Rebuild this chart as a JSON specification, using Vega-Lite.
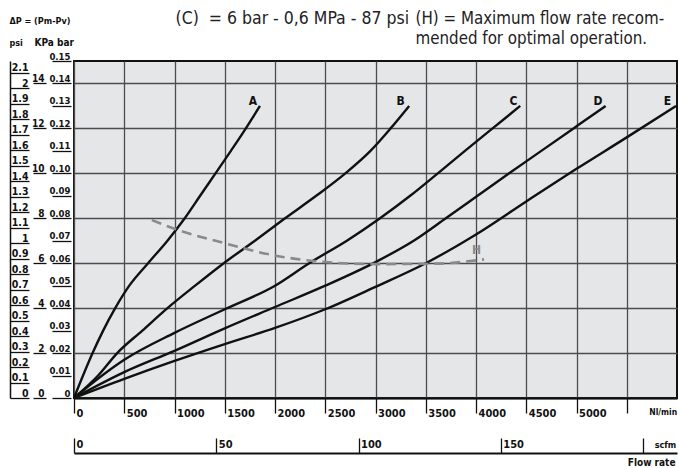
{
  "$schema": "https://vega.github.io/schema/vega-lite/v6.json",
  "width": 603,
  "height": 337,
  "autosize": {"type": "none"},
  "padding": {"left": 74, "top": 61, "right": 1, "bottom": 70},
  "background": "white",
  "config": {
    "font": "DejaVu Sans Condensed, sans-serif",
    "view": {"fill": "#e5e6e8", "stroke": "#111111", "strokeWidth": 2},
    "axis": {
      "labelFont": "DejaVu Sans Condensed, sans-serif",
      "titleFont": "DejaVu Sans Condensed, sans-serif",
      "labelColor": "#111111",
      "titleColor": "#111111",
      "labelFlush": false,
      "labelOverlap": false,
      "labelBound": false
    }
  },
  "datasets": {
    "curves": [
      {"series": "A", "flow": 0, "kpa": 0},
      {"series": "A", "flow": 90, "kpa": 1},
      {"series": "A", "flow": 185, "kpa": 2},
      {"series": "A", "flow": 290, "kpa": 3},
      {"series": "A", "flow": 410, "kpa": 4},
      {"series": "A", "flow": 550, "kpa": 5},
      {"series": "A", "flow": 737, "kpa": 6},
      {"series": "A", "flow": 930, "kpa": 7},
      {"series": "A", "flow": 1102, "kpa": 8},
      {"series": "A", "flow": 1255, "kpa": 9},
      {"series": "A", "flow": 1408, "kpa": 10},
      {"series": "A", "flow": 1561, "kpa": 11},
      {"series": "A", "flow": 1710, "kpa": 12},
      {"series": "A", "flow": 1850, "kpa": 13},
      {"series": "B", "flow": 0, "kpa": 0},
      {"series": "B", "flow": 240, "kpa": 1},
      {"series": "B", "flow": 430, "kpa": 2},
      {"series": "B", "flow": 680, "kpa": 3},
      {"series": "B", "flow": 930, "kpa": 4},
      {"series": "B", "flow": 1205, "kpa": 5},
      {"series": "B", "flow": 1490, "kpa": 6},
      {"series": "B", "flow": 1800, "kpa": 7},
      {"series": "B", "flow": 2100, "kpa": 8},
      {"series": "B", "flow": 2410, "kpa": 9},
      {"series": "B", "flow": 2700, "kpa": 10},
      {"series": "B", "flow": 2950, "kpa": 11},
      {"series": "B", "flow": 3150, "kpa": 12},
      {"series": "B", "flow": 3335, "kpa": 13},
      {"series": "C", "flow": 0, "kpa": 0},
      {"series": "C", "flow": 280, "kpa": 1},
      {"series": "C", "flow": 500, "kpa": 1.7},
      {"series": "C", "flow": 1000, "kpa": 2.9},
      {"series": "C", "flow": 1500, "kpa": 3.95},
      {"series": "C", "flow": 2000, "kpa": 5.0},
      {"series": "C", "flow": 2340, "kpa": 6},
      {"series": "C", "flow": 2715, "kpa": 7},
      {"series": "C", "flow": 3045, "kpa": 8},
      {"series": "C", "flow": 3345, "kpa": 9},
      {"series": "C", "flow": 3620, "kpa": 10},
      {"series": "C", "flow": 3890, "kpa": 11},
      {"series": "C", "flow": 4165, "kpa": 12},
      {"series": "C", "flow": 4440, "kpa": 13},
      {"series": "D", "flow": 0, "kpa": 0},
      {"series": "D", "flow": 500, "kpa": 1.15},
      {"series": "D", "flow": 1000, "kpa": 2.1},
      {"series": "D", "flow": 1500, "kpa": 3.1},
      {"series": "D", "flow": 2000, "kpa": 4.05},
      {"series": "D", "flow": 2500, "kpa": 5.0},
      {"series": "D", "flow": 3000, "kpa": 6.05},
      {"series": "D", "flow": 3380, "kpa": 7},
      {"series": "D", "flow": 3700, "kpa": 8},
      {"series": "D", "flow": 4015, "kpa": 9},
      {"series": "D", "flow": 4330, "kpa": 10},
      {"series": "D", "flow": 4650, "kpa": 11},
      {"series": "D", "flow": 4970, "kpa": 12},
      {"series": "D", "flow": 5290, "kpa": 13},
      {"series": "E", "flow": 0, "kpa": 0},
      {"series": "E", "flow": 500, "kpa": 0.85},
      {"series": "E", "flow": 1000, "kpa": 1.65},
      {"series": "E", "flow": 1500, "kpa": 2.4},
      {"series": "E", "flow": 2000, "kpa": 3.12},
      {"series": "E", "flow": 2500, "kpa": 3.95},
      {"series": "E", "flow": 3000, "kpa": 4.95},
      {"series": "E", "flow": 3500, "kpa": 6.0},
      {"series": "E", "flow": 4000, "kpa": 7.28},
      {"series": "E", "flow": 4500, "kpa": 8.75},
      {"series": "E", "flow": 5000, "kpa": 10.2},
      {"series": "E", "flow": 5500, "kpa": 11.6},
      {"series": "E", "flow": 5990, "kpa": 13},
      {"series": "H", "flow": 775, "kpa": 7.92},
      {"series": "H", "flow": 1020, "kpa": 7.5},
      {"series": "H", "flow": 1490, "kpa": 6.9},
      {"series": "H", "flow": 1990, "kpa": 6.35},
      {"series": "H", "flow": 2450, "kpa": 6.07},
      {"series": "H", "flow": 3010, "kpa": 5.96},
      {"series": "H", "flow": 3600, "kpa": 5.98},
      {"series": "H", "flow": 4080, "kpa": 6.17}
    ],
    "labels": [
      {"name": "A", "flow": 1780, "kpa": 13.05},
      {"name": "B", "flow": 3250, "kpa": 13.05},
      {"name": "C", "flow": 4373, "kpa": 13.05},
      {"name": "D", "flow": 5215, "kpa": 13.05},
      {"name": "E", "flow": 5905, "kpa": 13.05},
      {"name": "H", "flow": 4005, "kpa": 6.4}
    ]
  },
  "layer": [
    {
      "data": {"name": "curves"},
      "layer": [
        {
          "transform": [{"filter": "datum.series != 'H'"}],
          "mark": {"type": "line", "interpolate": "monotone", "color": "#111111", "strokeWidth": 2.4},
          "encoding": {
            "x": {
              "field": "flow",
              "type": "quantitative",
              "scale": {"domain": [0, 6000], "nice": false, "zero": true},
              "axis": {
                "orient": "bottom",
                "values": [0, 500, 1000, 1500, 2000, 2500, 3000, 3500, 4000, 4500, 5000, 5500],
                "format": "d",
                "labelExpr": "datum.value == 5500 ? 'Nl/min' : datum.label",
                "grid": true,
                "gridColor": "#4d4d4d",
                "gridWidth": 1.3,
                "domain": true,
                "domainColor": "#111111",
                "domainWidth": 2,
                "ticks": true,
                "tickSize": 15,
                "tickColor": "#111111",
                "tickWidth": 1.3,
                "labelAlign": "left",
                "labelBaseline": "top",
                "labelPadding": -6,
                "labelOffset": {"condition": {"test": "datum.value == 5500", "value": 22}, "value": 2},
                "labelFontSize": {"condition": {"test": "datum.value == 5500", "value": 8.5}, "value": 11},
                "labelFontWeight": "bold",
                "title": "(C)\u00a0\u00a0= 6 bar - 0,6 MPa - 87 psi",
                "titleX": 101,
                "titleY": -375,
                "titleAngle": 0,
                "titleAlign": "left",
                "titleBaseline": "alphabetic",
                "titleFontSize": 17.5,
                "titleFontWeight": "normal",
                "titleColor": "#222222"
              }
            },
            "y": {
              "field": "kpa",
              "type": "quantitative",
              "scale": {"domain": [0, 15], "nice": false, "zero": true},
              "axis": {
                "orient": "left",
                "offset": 28,
                "values": [0, 1, 2, 3, 4, 5, 6, 7, 8, 9, 10, 11, 12, 13, 14, 15],
                "grid": true,
                "gridColor": "#4d4d4d",
                "gridWidth": 1.3,
                "domain": false,
                "ticks": true,
                "tickSize": 13,
                "tickColor": "#111111",
                "tickWidth": 1.3,
                "labelAlign": "right",
                "labelBaseline": "alphabetic",
                "labelPadding": -11,
                "labelOffset": -2,
                "labelFontSize": 10,
                "labelFontWeight": "bold",
                "title": "KPa bar",
                "titleX": -12,
                "titleY": -16,
                "titleAngle": 0,
                "titleAlign": "left",
                "titleBaseline": "alphabetic",
                "titleFontSize": 10,
                "titleFontWeight": "bold"
              }
            },
            "detail": {"field": "series"}
          }
        },
        {
          "transform": [{"filter": "datum.series == 'H'"}],
          "mark": {"type": "line", "interpolate": "monotone", "color": "#8a8a8a", "strokeWidth": 2.6, "strokeDash": [10, 6]},
          "encoding": {
            "x": {"field": "flow", "type": "quantitative"},
            "y": {"field": "kpa", "type": "quantitative"}
          }
        },
        {
          "data": {"name": "labels"},
          "mark": {"type": "text", "fontWeight": "bold", "fontSize": 12, "baseline": "alphabetic", "align": "center"},
          "encoding": {
            "x": {"field": "flow", "type": "quantitative"},
            "y": {"field": "kpa", "type": "quantitative"},
            "text": {"field": "name"},
            "color": {
              "field": "name",
              "type": "nominal",
              "scale": {"domain": ["A", "B", "C", "D", "E", "H"], "range": ["#111111", "#111111", "#111111", "#111111", "#111111", "#8a8a8a"]},
              "legend": null
            }
          }
        }
      ]
    },
    {
      "data": {"values": [{"scfm": 0}, {"scfm": 211.9}]},
      "mark": {"type": "rule", "opacity": 0},
      "encoding": {
        "x": {
          "field": "scfm",
          "type": "quantitative",
          "scale": {"domain": [0, 211.9], "nice": false, "zero": true},
          "axis": {
            "orient": "bottom",
            "offset": 55,
            "values": [0, 50, 100, 150, 200],
            "labelExpr": "datum.value == 200 ? 'scfm' : datum.label",
            "grid": false,
            "domain": true,
            "domainColor": "#111111",
            "domainWidth": 2,
            "ticks": true,
            "tickSize": -15,
            "tickColor": "#111111",
            "tickWidth": 1.3,
            "labelAlign": "left",
            "labelBaseline": "bottom",
            "labelPadding": 11,
            "labelOffset": {"condition": {"test": "datum.value == 200", "value": 11}, "value": 2},
            "labelFontSize": {"condition": {"test": "datum.value == 200", "value": 9}, "value": 11},
            "labelFontWeight": "bold",
            "title": "Flow rate",
            "titleX": 601,
            "titleY": 4,
            "titleAngle": 0,
            "titleAlign": "right",
            "titleBaseline": "top",
            "titleFontSize": 10,
            "titleFontWeight": "bold"
          }
        }
      }
    },
    {
      "data": {"values": [{"psi": 0}, {"psi": 2.1755}]},
      "mark": {"type": "rule", "opacity": 0},
      "encoding": {
        "y": {
          "field": "psi",
          "type": "quantitative",
          "scale": {"domain": [0, 2.1755], "nice": false, "zero": true},
          "axis": {
            "orient": "left",
            "offset": 64,
            "values": [0, 0.1, 0.2, 0.3, 0.4, 0.5, 0.6, 0.7, 0.8, 0.9, 1, 1.1, 1.2, 1.3, 1.4, 1.5, 1.6, 1.7, 1.8, 1.9, 2, 2.1],
            "labelExpr": "format(datum.value, '.1~f')",
            "grid": false,
            "domain": true,
            "domainColor": "#111111",
            "domainWidth": 1.5,
            "ticks": true,
            "tickSize": -19,
            "tickColor": "#111111",
            "tickWidth": 1.3,
            "labelAlign": "right",
            "labelBaseline": "alphabetic",
            "labelPadding": 1,
            "labelOffset": -2,
            "labelFontSize": 10.5,
            "labelFontWeight": "bold",
            "title": ["ΔP = (Pm-Pv)", "psi"],
            "titleLineHeight": 22,
            "titleX": -1,
            "titleY": -38,
            "titleAngle": 0,
            "titleAlign": "left",
            "titleBaseline": "alphabetic",
            "titleFontSize": 9,
            "titleFontWeight": "bold"
          }
        }
      }
    },
    {
      "data": {"values": [{"bar": 0}, {"bar": 0.15}]},
      "mark": {"type": "rule", "opacity": 0},
      "encoding": {
        "y": {
          "field": "bar",
          "type": "quantitative",
          "scale": {"domain": [0, 0.15], "nice": false, "zero": true},
          "axis": {
            "orient": "left",
            "offset": 3,
            "values": [0, 0.01, 0.02, 0.03, 0.04, 0.05, 0.06, 0.07, 0.08, 0.09, 0.1, 0.11, 0.12, 0.13, 0.14, 0.15],
            "labelExpr": "datum.value == 0 ? '0' : format(datum.value, '.2f')",
            "grid": false,
            "domain": false,
            "ticks": true,
            "tickSize": 19,
            "tickColor": "#111111",
            "tickWidth": 1.3,
            "labelAlign": "right",
            "labelBaseline": "alphabetic",
            "labelPadding": -18,
            "labelOffset": -2,
            "labelFontSize": 9.5,
            "labelFontWeight": "bold",
            "title": ["(H) = Maximum flow rate recom-", "\u00a0\u00a0mended for optimal operation."],
            "titleLineHeight": 20,
            "titleX": 344,
            "titleY": -38,
            "titleAngle": 0,
            "titleAlign": "left",
            "titleBaseline": "alphabetic",
            "titleFontSize": 16.8,
            "titleFontWeight": "normal",
            "titleColor": "#222222"
          }
        }
      }
    }
  ],
  "resolve": {"scale": {"x": "independent", "y": "independent"}}
}
